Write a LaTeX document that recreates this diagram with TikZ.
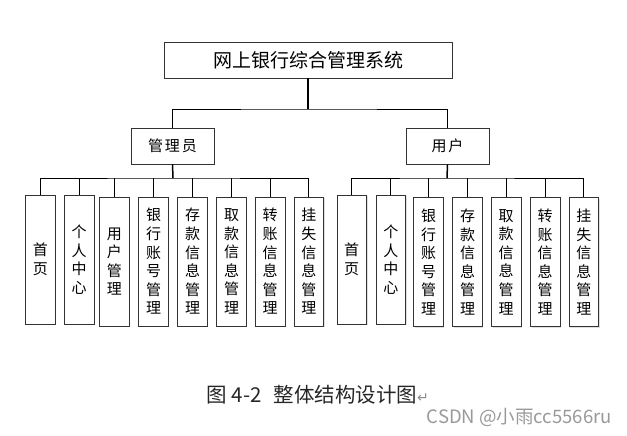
\documentclass[tikz,border=0pt]{standalone}
\usepackage{fontspec}
\setmainfont{Noto Sans CJK SC}
\newfontfamily\arrowfont{DejaVu Sans}
\usetikzlibrary{shadows}

\tikzset{
  box/.style={draw=black!80,line width=0.9pt,fill=white,inner sep=0pt,
    drop shadow={shadow xshift=1.2pt,shadow yshift=-1.2pt,opacity=0.25}},
  leaf/.style={box,minimum width=29.5pt,minimum height=129pt,align=center,
    font=\fontsize{15}{18.6}\selectfont},
  link/.style={line width=0.9pt},
  trunk/.style={line width=1.5pt}
}

\begin{document}
\begin{tikzpicture}[x=1pt,y=-1pt]
  \useasboundingbox (0,0) rectangle (627,436);
  % top levels
  \node [box,minimum width=288pt,minimum height=36pt,font=\fontsize{19}{19}\selectfont] (sys) at (308,60) {网上银行综合管理系统};
  \node [box,minimum width=83pt,minimum height=36pt,font=\fontsize{15}{15}\selectfont] (admin) at (172.5,146) {管\kern2pt 理\kern2pt 员};
  \node [box,minimum width=83pt,minimum height=36pt,font=\fontsize{15}{15}\selectfont] (user) at (447.5,146) {用\kern2pt 户};
  \coordinate (bar) at (308,109);
  \coordinate (abar) at (173,178);
  \coordinate (ubar) at (447,178);
  \draw [trunk] (sys.south) -- (bar);
  \draw [link] (admin.north) |- (bar) -| (user.north);
  \draw [trunk] (admin.south) -- (abar);
  \draw [trunk] (user.south) -- (ubar);
  % admin leaves
  \foreach \i/\x/\y/\t in {1/40.3/259.5/首\\页, 2/79.2/259.5/个\\人\\中\\心,
      3/114.3/261.5/用\\户\\管\\理, 4/153.5/261.5/银\\行\\账\\号\\管\\理,
      5/192.5/261.5/存\\款\\信\\息\\管\\理, 6/231.5/261.5/取\\款\\信\\息\\管\\理,
      7/270.2/261.5/转\\账\\信\\息\\管\\理, 8/308.8/261.5/挂\\失\\信\\息\\管\\理}
    \node [leaf] (a\i) at (\x,\y) {\t};
  \draw [link] (a1.north) |- (abar) -| (a8.north);
  \foreach \i in {2,...,7}
    \draw [link] (a\i.north) -- (a\i.north |- abar);
  % user leaves
  \foreach \i/\x/\y/\t in {1/351.7/259.5/首\\页, 2/390.8/259.5/个\\人\\中\\心,
      3/428.5/262/银\\行\\账\\号\\管\\理, 4/467.5/262/存\\款\\信\\息\\管\\理,
      5/506.2/262/取\\款\\信\\息\\管\\理, 6/545.2/262/转\\账\\信\\息\\管\\理,
      7/583.8/262/挂\\失\\信\\息\\管\\理}
    \node [leaf] (u\i) at (\x,\y) {\t};
  \draw [link] (u1.north) |- (ubar) -| (u7.north);
  \foreach \i in {2,...,6}
    \draw [link] (u\i.north) -- (u\i.north |- ubar);
  % caption
  \node [anchor=west,inner sep=0pt,font=\fontsize{20.5}{20.5}\selectfont,text=black!85] (cap) at (206,395) {图\kern5pt 4-2\kern12pt 整体结构设计图{\arrowfont\color{black!45}\fontsize{14}{14}\selectfont↵}};
  \node [anchor=east,inner sep=0pt,font=\fontsize{18.5}{18.5}\selectfont,text=black!40] (mark) at (612,417) {CSDN @小雨cc5566ru};
\end{tikzpicture}
\end{document}
